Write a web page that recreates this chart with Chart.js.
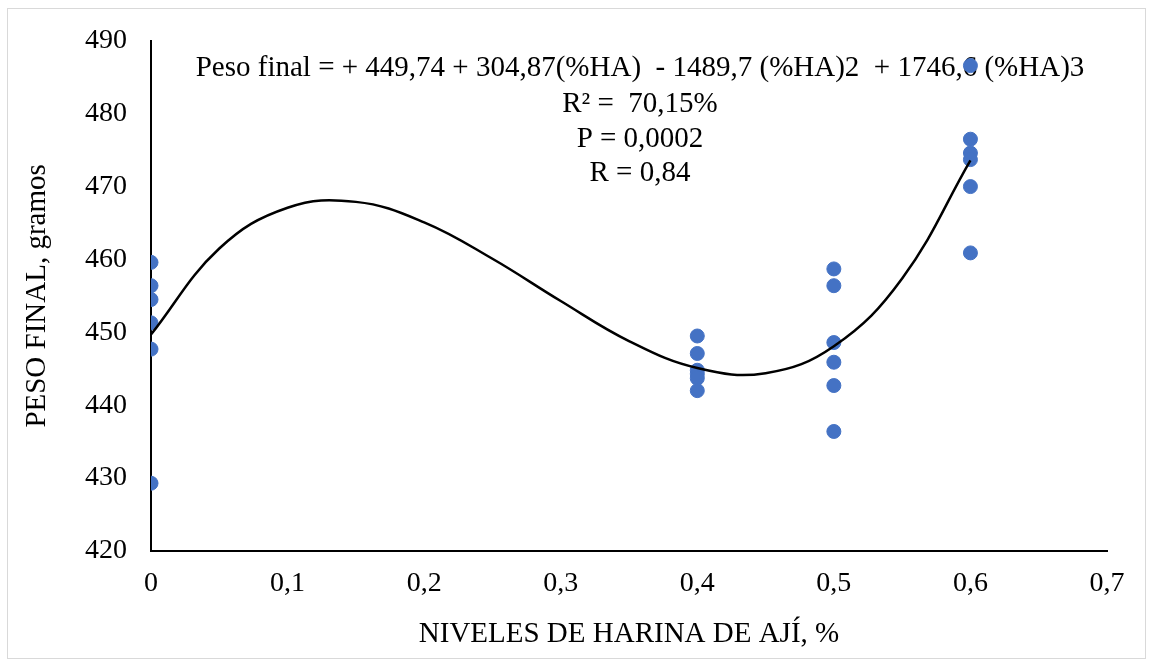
<!DOCTYPE html>
<html>
<head>
<meta charset="utf-8">
<script src="https://cdn.jsdelivr.net/npm/chart.js@4"></script>
<style>
    html, body { margin: 0; padding: 0; background: #fff; }
    #wrap { width: 1153px; height: 667px; position: relative; }
</style>
</head>
<body>
<div id="wrap"><canvas id="chart"></canvas></div>
<script>
// Observed values (x = % harina de ají, y = peso final en gramos)
const level0 = [459.6, 456.4, 454.5, 451.3, 447.7, 429.3];
const level04 = [449.5, 447.1, 444.8, 444.3, 443.7, 442.0];
const level05 = [458.7, 456.4, 448.6, 445.9, 442.7, 436.4];
const level06 = [486.6, 476.5, 474.6, 473.7, 470.0, 460.9];
const levels = [0, 0.4, 0.5, 0.6];

// Trendline
const trendX = [0, 0.05, 0.1, 0.15, 0.2, 0.25, 0.3, 0.35, 0.4, 0.45, 0.5, 0.55, 0.6];
const trendY = [449.7, 461.5, 467.1, 467.9, 465.1, 460.1, 454.3, 448.8, 445.1, 444.4, 448.1, 457.4, 473.6];

const annotation = [
    'Peso final = + 449,74 + 304,87(%HA)  - 1489,7 (%HA)2  + 1746,6 (%HA)3',
    'R² =  70,15%',
    'P = 0,0002',
    'R = 0,84'
];

const FONT = '"Liberation Serif", "Times New Roman", serif';

const groups = [level0, level04, level05, level06];
const scatterPoints = [];
groups.forEach((g, i) => g.forEach(v => scatterPoints.push({ x: levels[i], y: v })));
const trendPoints = trendX.map((x, i) => ({ x: x, y: trendY[i] }));

// Outer frame + equation text (drawn under the points, like the original)
const extras = {
    id: 'extras',
    beforeDatasetsDraw(chart) {
        const ctx = chart.ctx;
        ctx.save();
        ctx.strokeStyle = '#d9d9d9';
        ctx.lineWidth = 1;
        ctx.strokeRect(7.5, 8.5, 1138, 650);

        ctx.fillStyle = '#000';
        ctx.textAlign = 'center';
        ctx.textBaseline = 'middle';
        ctx.font = '29px ' + FONT;
        const ys = [68, 104, 139, 173];
        annotation.forEach((t, i) => ctx.fillText(t, 640, ys[i]));
        ctx.restore();
    }
};

const fmt = v => (v === 0 ? '0' : v.toFixed(1).replace('.', ','));

new Chart(document.getElementById('chart'), {
    type: 'scatter',
    data: {
        datasets: [
            {
                type: 'line',
                data: trendPoints,
                borderColor: '#000',
                borderWidth: 2.5,
                pointRadius: 0,
                tension: 0.4,
                fill: false,
                order: 1 // trendline on top of the dots
            },
            {
                data: scatterPoints,
                backgroundColor: '#4472C4',
                borderColor: '#4472C4',
                borderWidth: 1,
                pointRadius: 7,
                order: 2
            }
        ]
    },
    options: {
        responsive: true,
        maintainAspectRatio: false,
        animation: false,
        layout: { padding: { left: 0, top: 38, right: 46, bottom: 0 } },
        plugins: { legend: { display: false }, tooltip: { enabled: false } },
        scales: {
            x: {
                type: 'linear',
                min: 0,
                max: 0.7,
                afterFit: s => { s.height = 116; },
                grid: { display: false, drawTicks: false },
                border: { color: '#000', width: 2 },
                ticks: {
                    stepSize: 0.1,
                    padding: 16,
                    color: '#000',
                    font: { family: FONT, size: 28 },
                    callback: v => fmt(v)
                },
                title: {
                    display: true,
                    text: 'NIVELES DE HARINA DE AJÍ, %',
                    color: '#000',
                    font: { family: FONT, size: 29 },
                    padding: { top: 0, bottom: 15 }
                }
            },
            y: {
                min: 420,
                max: 490,
                afterFit: s => { s.width = 151; },
                grid: { display: false, drawTicks: false },
                border: { color: '#000', width: 2 },
                ticks: {
                    stepSize: 10,
                    padding: 24,
                    color: '#000',
                    font: { family: FONT, size: 28 }
                },
                title: {
                    display: true,
                    text: 'PESO FINAL, gramos',
                    color: '#000',
                    font: { family: FONT, size: 29 },
                    padding: { top: 20, bottom: 0 }
                }
            }
        }
    },
    plugins: [extras]
});
</script>
</body>
</html>
